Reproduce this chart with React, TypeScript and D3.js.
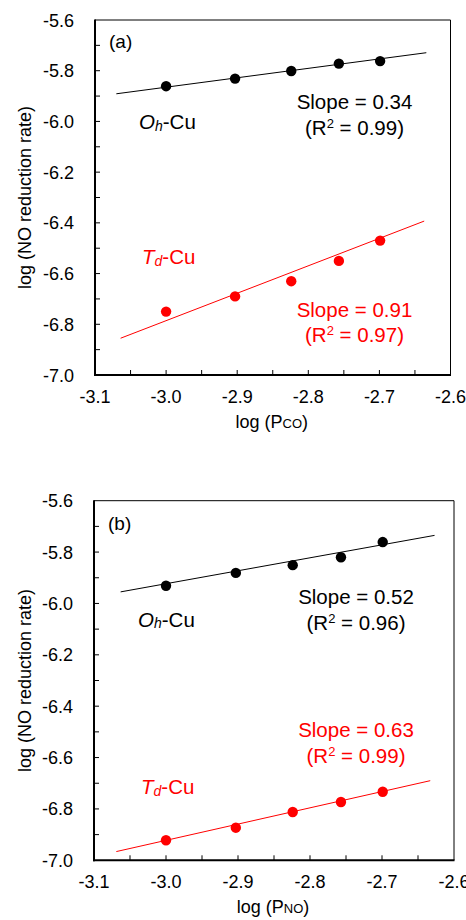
import React from "react";
import * as d3 from "d3";

// ---- data ----
const xValues = [-3.0, -2.903, -2.824, -2.757, -2.699];
const ohCuPco = [-5.861, -5.831, -5.801, -5.772, -5.762];
const tdCuPco = [-6.75, -6.69, -6.63, -6.55, -6.47];
const ohCuPno = [-5.931, -5.881, -5.851, -5.82, -5.761];
const tdCuPno = [-6.922, -6.873, -6.812, -6.773, -6.733];

const ohFitPco: [number, number][] = [[-3.07, -5.891], [-2.634, -5.729]];
const tdFitPco: [number, number][] = [[-3.064, -6.855], [-2.637, -6.393]];
const ohFitPno: [number, number][] = [[-3.063, -5.955], [-2.627, -5.735]];
const tdFitPno: [number, number][] = [[-3.069, -6.966], [-2.633, -6.69]];

const xTickLabels = ["-3.1", "-3.0", "-2.9", "-2.8", "-2.7", "-2.6"];
const yTickLabels = ["-5.6", "-5.8", "-6.0", "-6.2", "-6.4", "-6.6", "-6.8", "-7.0"];

const panelLetters = ["(a)", "(b)"];
const xSubscripts = ["CO", "NO"];
const ohSlopes = ["Slope = 0.34", "Slope = 0.52"];
const ohR2 = ["0.99", "0.96"];
const tdSlopes = ["Slope = 0.91", "Slope = 0.63"];
const tdR2 = ["0.97", "0.99"];

const FONT = "'Liberation Sans', Arial, Helvetica, sans-serif";
const RED = "#ff0000";

type Layout = {
  left: number; right: number; top: number; bottom: number;
  oh: number[]; td: number[];
  ohFit: [number, number][]; tdFit: [number, number][];
  letterY: number; ohLabelY: number; tdLabelY: number;
  ohSlopeY: number; tdSlopeY: number; slopeX: number;
};

const layouts: Layout[] = [
  {
    left: 95, right: 450.5, top: 20, bottom: 375,
    oh: ohCuPco, td: tdCuPco, ohFit: ohFitPco, tdFit: tdFitPco,
    letterY: 48, ohLabelY: 129, tdLabelY: 264,
    ohSlopeY: 109, tdSlopeY: 316.5, slopeX: 354.5,
  },
  {
    left: 94, right: 454, top: 500.7, bottom: 860.3,
    oh: ohCuPno, td: tdCuPno, ohFit: ohFitPno, tdFit: tdFitPno,
    letterY: 530, ohLabelY: 626.5, tdLabelY: 794,
    ohSlopeY: 604, tdSlopeY: 737, slopeX: 356,
  },
];

function Panel({ L, i }: { L: Layout; i: number }) {
  const x = d3.scaleLinear().domain([-3.1, -2.6]).range([L.left, L.right]);
  const y = d3.scaleLinear().domain([-7.0, -5.6]).range([L.bottom, L.top]);
  const line = d3.line<[number, number]>().x((d) => x(d[0])).y((d) => y(d[1]));
  const xMinor = d3.range(1, 10).map((k) => -3.1 + k * 0.05);
  const yMinor = d3.range(1, 14).map((k) => -7.0 + k * 0.1);
  const fs = 18;
  const af = 20.5;
  return (
    <g fontFamily={FONT}>
      {/* frame */}
      <line x1={L.left} x2={L.right} y1={L.top} y2={L.top} stroke="#000" strokeWidth={1} />
      <line x1={L.right} x2={L.right} y1={L.top} y2={L.bottom} stroke="#000" strokeWidth={1} />
      <line x1={L.left} x2={L.left} y1={L.top - 0.5} y2={L.bottom + 1} stroke="#000" strokeWidth={2} />
      <line x1={L.left - 1} x2={L.right + 0.5} y1={L.bottom} y2={L.bottom} stroke="#000" strokeWidth={2} />
      {/* ticks */}
      {xMinor.map((v, k) => (
        <line key={"xt" + k} x1={x(v)} x2={x(v)} y1={L.bottom} y2={L.bottom - 5} stroke="#000" strokeWidth={1} />
      ))}
      {yMinor.map((v, k) => (
        <line key={"yt" + k} x1={L.left} x2={L.left + 5} y1={y(v)} y2={y(v)} stroke="#000" strokeWidth={1} />
      ))}
      {xTickLabels.map((t) => (
        <text key={"xl" + t} x={x(+t)} y={L.bottom + 27.5} fontSize={fs} textAnchor="middle" fill="#000">{t}</text>
      ))}
      {yTickLabels.map((t) => (
        <text key={"yl" + t} x={L.left - 21} y={y(+t) + 6.5} fontSize={fs} textAnchor="end" fill="#000">{t}</text>
      ))}
      {/* axis titles */}
      <text x={(L.left + L.right) / 2 - 1} y={L.bottom + 53} fontSize={18} textAnchor="middle" fill="#000">
        log (P<tspan fontSize={13}>{xSubscripts[i]}</tspan>)
      </text>
      <text transform={`translate(${31}, ${(L.top + L.bottom) / 2}) rotate(-90)`} fontSize={18} textAnchor="middle" fill="#000">
        log (NO reduction rate)
      </text>
      {/* fit lines */}
      <path d={line(L.ohFit) || ""} stroke="#000" strokeWidth={1} fill="none" />
      <path d={line(L.tdFit) || ""} stroke={RED} strokeWidth={1} fill="none" />
      {/* points */}
      {xValues.map((xv, k) => (
        <circle key={"o" + k} cx={x(xv)} cy={y(L.oh[k])} r={5.2} fill="#000" />
      ))}
      {xValues.map((xv, k) => (
        <circle key={"t" + k} cx={x(xv)} cy={y(L.td[k])} r={5.2} fill={RED} />
      ))}
      {/* annotations */}
      <text x={L.left + 14} y={L.letterY} fontSize={19} fill="#000">{panelLetters[i]}</text>
      <text x={L.left + 44} y={L.ohLabelY} fontSize={af} fill="#000">
        <tspan fontStyle="italic">O</tspan>
        <tspan fontStyle="italic" fontSize={14} dy={1.5}>h</tspan>
        <tspan dy={-1.5}>-Cu</tspan>
      </text>
      <text x={L.left + 47} y={L.tdLabelY} fontSize={af} fill={RED}>
        <tspan fontStyle="italic">T</tspan>
        <tspan fontStyle="italic" fontSize={14} dy={1.5}>d</tspan>
        <tspan dy={-1.5}>-Cu</tspan>
      </text>
      <text x={L.slopeX} y={L.ohSlopeY} fontSize={af} textAnchor="middle" fill="#000">{ohSlopes[i]}</text>
      <text x={L.slopeX} y={L.ohSlopeY + 25.5} fontSize={af} textAnchor="middle" fill="#000">
        (R<tspan fontSize={13} dy={-7}>2</tspan><tspan dy={7}> = {ohR2[i]})</tspan>
      </text>
      <text x={L.slopeX} y={L.tdSlopeY} fontSize={af} textAnchor="middle" fill={RED}>{tdSlopes[i]}</text>
      <text x={L.slopeX} y={L.tdSlopeY + 25.5} fontSize={af} textAnchor="middle" fill={RED}>
        (R<tspan fontSize={13} dy={-7}>2</tspan><tspan dy={7}> = {tdR2[i]})</tspan>
      </text>
    </g>
  );
}

export default function App() {
  return (
    <svg width={466} height={920} style={{ position: "absolute", left: 0, top: 0, background: "#fff" }}>
      <rect width={466} height={920} fill="#fff" />
      {layouts.map((L, i) => (
        <Panel key={i} L={L} i={i} />
      ))}
    </svg>
  );
}
